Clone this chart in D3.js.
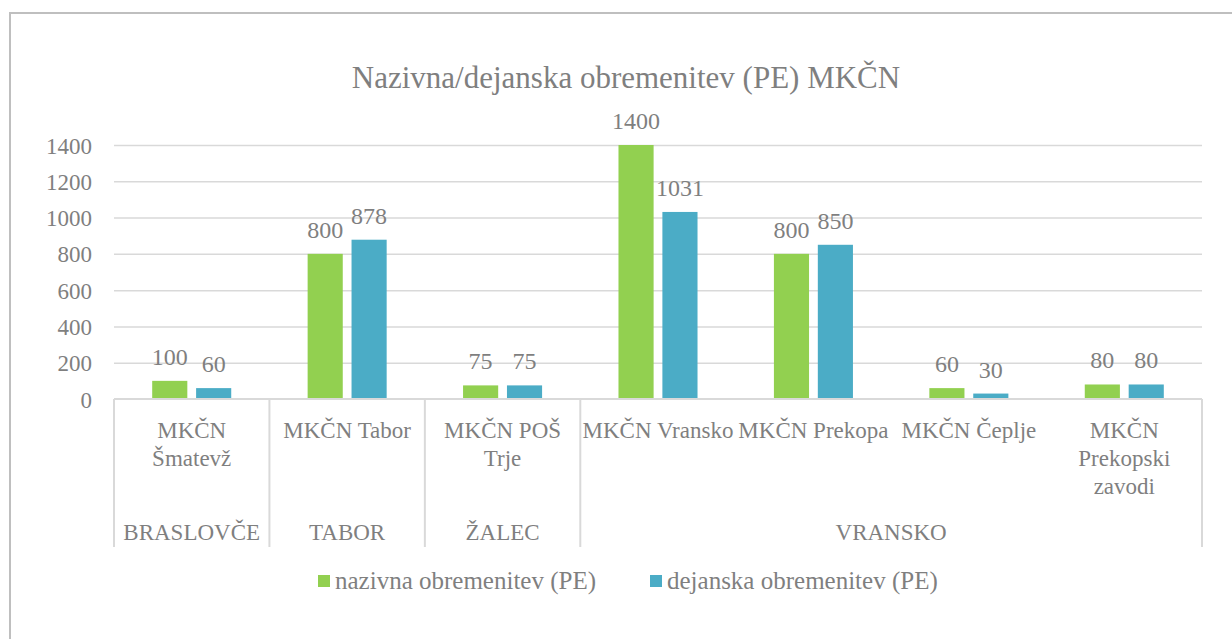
<!DOCTYPE html>
<head>
  <meta charset="utf-8">
  <script src="https://d3js.org/d3.v7.min.js"></script>
  <style>
    body { margin:0; background:#fff; }
    text { font-family: "Liberation Serif", "DejaVu Serif", serif; fill:#7f7f7f; }
  </style>
</head>
<body>
<script>

/* Data */
/* ==== */

var categories = ["MKČN\nŠmatevž", "MKČN Tabor", "MKČN POŠ\nTrje", "MKČN Vransko", "MKČN Prekopa", "MKČN Čeplje", "MKČN\nPrekopski\nzavodi"];
var groups = ["BRASLOVČE", "TABOR", "ŽALEC", "VRANSKO"];
var groupSizes = [1, 1, 1, 4];
var nazivna = [100, 800, 75, 1400, 800, 60, 80];
var dejanska = [60, 878, 75, 1031, 850, 30, 80];
var seriesNames = ["nazivna obremenitev (PE)", "dejanska obremenitev (PE)"];
var yTicks = [0, 200, 400, 600, 800, 1000, 1200, 1400];

var colors = ["#92d050", "#4bacc6"];

/* Set up */
/* ====== */

var width = 1232, height = 639;
var plot = { left: 114, right: 1202, top: 145, bottom: 399 };

var svg = d3.select('body').append('svg')
    .attr('width', width)
    .attr('height', height);

// chart border
svg.append('rect')
    .attr('x', 10).attr('y', 13)
    .attr('width', 1240).attr('height', 640)
    .attr('fill', 'none')
    .attr('stroke', '#bfbfbf')
    .attr('stroke-width', 2);

var x = d3.scaleBand()
    .domain(d3.range(categories.length))
    .range([plot.left, plot.right]);

var inner = d3.scaleBand()
    .domain([0, 1])
    .range([0, x.bandwidth()])
    .paddingInner(0.2)
    .paddingOuter(0.87);

var y = d3.scaleLinear()
    .domain([0, 1400])
    .range([plot.bottom, plot.top]);

// gridlines
var yAxis = d3.axisLeft(y)
    .tickValues(yTicks)
    .tickFormat(d3.format('d'))
    .tickSize(-(plot.right - plot.left));
var gy = svg.append('g')
    .attr('transform', 'translate(' + plot.left + ',0)')
    .call(yAxis);
gy.attr('font-family', null);
gy.select('.domain').remove();
gy.selectAll('.tick line').attr('stroke', '#d9d9d9').attr('stroke-width', 1.5);
gy.selectAll('.tick text')
    .attr('fill', '#7f7f7f')
    .style('font-family', '"Liberation Serif", serif')
    .style('font-size', '23px')
    .attr('dy', '0.35em')
    .attr('x', -22);
gy.selectAll('.tick').filter(function(d) { return d === 0; }).select('line').remove();

// title
svg.append('text')
    .attr('x', 626).attr('y', 88)
    .attr('text-anchor', 'middle')
    .style('font-size', '31px')
    .text('Nazivna/dejanska obremenitev (PE) MKČN');

/* Bars */
/* ==== */

var series = [nazivna, dejanska];

series.forEach(function(vals, s) {
  var g = svg.append('g');
  g.selectAll('rect').data(vals).enter().append('rect')
      .attr('x', function(d, i) { return x(i) + inner(s); })
      .attr('y', function(d) { return y(d); })
      .attr('width', inner.bandwidth())
      .attr('height', function(d) { return y(0) - y(d); })
      .attr('fill', colors[s]);
  g.selectAll('text').data(vals).enter().append('text')
      .attr('x', function(d, i) { return x(i) + inner(s) + inner.bandwidth() / 2; })
      .attr('y', function(d) { return y(d) - 16; })
      .attr('text-anchor', 'middle')
      .style('font-size', '24px')
      .text(function(d) { return d; });
});

/* Category axis (two levels) */
/* ========================== */

svg.append('line')
    .attr('x1', plot.left).attr('x2', plot.right)
    .attr('y1', y(0)).attr('y2', y(0))
    .attr('stroke', '#d9d9d9').attr('stroke-width', 2);

var catLabels = svg.append('g').selectAll('text').data(categories).enter().append('text')
    .attr('text-anchor', 'middle')
    .attr('x', function(d, i) { return x(i) + x.bandwidth() / 2; })
    .attr('y', 438)
    .style('font-size', '23px');
catLabels.each(function(d) {
  var t = d3.select(this);
  d.split('\n').forEach(function(line, k) {
    t.append('tspan')
        .attr('x', t.attr('x'))
        .attr('dy', k === 0 ? 0 : 28)
        .text(line);
  });
});

var bounds = [0];
groupSizes.forEach(function(n, i) { bounds.push(bounds[i] + n); });

svg.append('g').selectAll('line').data(bounds).enter().append('line')
    .attr('x1', function(b) { return b < categories.length ? x(b) : plot.right; })
    .attr('x2', function(b) { return b < categories.length ? x(b) : plot.right; })
    .attr('y1', y(0)).attr('y2', 547)
    .attr('stroke', '#d9d9d9').attr('stroke-width', 2);

svg.append('g').selectAll('text').data(groups).enter().append('text')
    .attr('text-anchor', 'middle')
    .attr('x', function(d, i) {
      var a = x(bounds[i]);
      var b = bounds[i + 1] < categories.length ? x(bounds[i + 1]) : plot.right;
      return (a + b) / 2;
    })
    .attr('y', 540)
    .style('font-size', '23px')
    .text(function(d) { return d; });

/* Legend */
/* ====== */

var legendX = [318, 650];
var legend = svg.append('g').selectAll('g').data(seriesNames).enter().append('g')
    .attr('transform', function(d, i) { return 'translate(' + legendX[i] + ',575)'; });
legend.append('rect')
    .attr('width', 12).attr('height', 12)
    .attr('fill', function(d, i) { return colors[i]; });
legend.append('text')
    .attr('x', 17).attr('y', 14)
    .style('font-size', '25px')
    .text(function(d) { return d; });

</script>
</body>
